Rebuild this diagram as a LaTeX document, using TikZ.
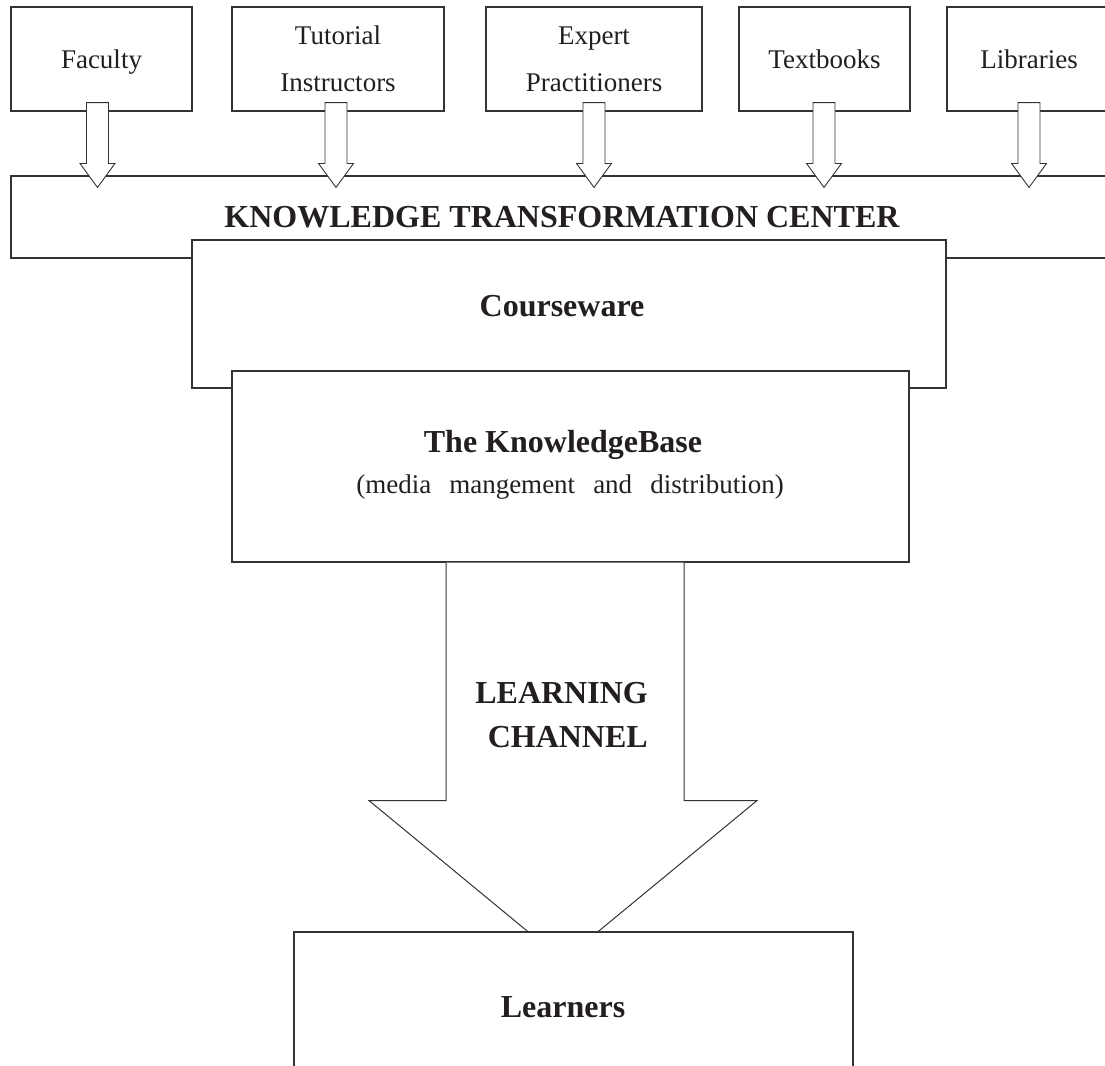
\documentclass[tikz,border=0pt]{standalone}
\usepackage{fontspec}
\setmainfont{Liberation Serif}
\usetikzlibrary{calc}
\definecolor{ln}{HTML}{333333}
\definecolor{ink}{HTML}{231F20}
\begin{document}
\begin{tikzpicture}[x=1pt,y=-1pt,
  every node/.style={text=ink},
  box/.style={draw=ln, line width=1.1pt, fill=white, inner sep=0pt},
  src/.style={box, font=\fontsize{27}{47}\selectfont, align=center, text depth=0pt},
  blk/.style={draw=ln, line width=0.9pt, fill=white, line join=miter},
  bigtxt/.style={font=\fontsize{32}{38}\selectfont\bfseries, inner sep=0pt, anchor=base},
  subtxt/.style={font=\fontsize{27}{32}\selectfont, inner sep=0pt, anchor=base}
]
\useasboundingbox (0,0) rectangle (1105,1065);
\clip (0,0) rectangle (1105,1065);

% source boxes
\node[src, minimum width=181pt, minimum height=104pt] (fac) at (101.5,59) {Faculty};
\node[src, minimum width=212pt, minimum height=104pt] (tut) at (338,59) {Tutorial\\Instructors};
\node[src, minimum width=216pt, minimum height=104pt] (exp) at (594,59) {Expert\\Practitioners};
\node[src, minimum width=171pt, minimum height=104pt] (txt) at (824.5,59) {Textbooks};
\node[src, minimum width=164pt, minimum height=104pt] (lib) at (1029,59) {Libraries};

% knowledge transformation center
\node[box, minimum width=1114pt, minimum height=82pt] (ktc) at (568,217) {};
\node[bigtxt] (ktctext) at (562,227) {KNOWLEDGE TRANSFORMATION CENTER};

% hollow arrows into the center
\foreach \n/\o in {fac/-4,tut/-2,exp/0,txt/-0.5,lib/0} {
  \draw[blk] ($(\n.south)+(\o-11,-9)$) -- ($(\n.south)+(\o+11,-9)$)
    -- ($(\n.south |- ktc.north)+(\o+11,-12)$) -- ($(\n.south |- ktc.north)+(\o+17.5,-12)$)
    -- ($(\n.south |- ktc.north)+(\o,12)$)
    -- ($(\n.south |- ktc.north)+(\o-17.5,-12)$) -- ($(\n.south |- ktc.north)+(\o-11,-12)$)
    -- cycle;
}

% courseware
\node[box, minimum width=754pt, minimum height=148pt] (cw) at (569,314) {};
\node[bigtxt] (cwtext) at (562,316) {Courseware};

% knowledge base
\node[box, minimum width=677pt, minimum height=191pt] (kb) at (570.5,466.5) {};
\node[bigtxt] (kbtitle) at (563,452) {The KnowledgeBase};
\node[subtxt] (kbsub) at (570,493) {(media\hspace{18pt}mangement\hspace{18pt}and\hspace{18pt}distribution)};

% learning channel arrow
\coordinate (lc) at ($(kb.south)+(-5.5,0)$);
\draw[blk, line width=1pt] ($(lc)+(-119,0)$) -- ($(lc)+(-119,238)$) -- ($(lc)+(-196,238)$)
  -- ($(lc)+(-2,398)$) -- ($(lc)+(192,238)$) -- ($(lc)+(119,238)$) -- ($(lc)+(119,0)$);
\node[bigtxt, anchor=base east] (lc1) at (648,703) {LEARNING};
\node[bigtxt, anchor=base east] (lc2) at (648,747) {CHANNEL};

% learners
\node[box, minimum width=559pt, minimum height=158pt] (lrn) at (573.5,1011) {};
\node[bigtxt] (lrntext) at (563,1017) {Learners};
\end{tikzpicture}
\end{document}
